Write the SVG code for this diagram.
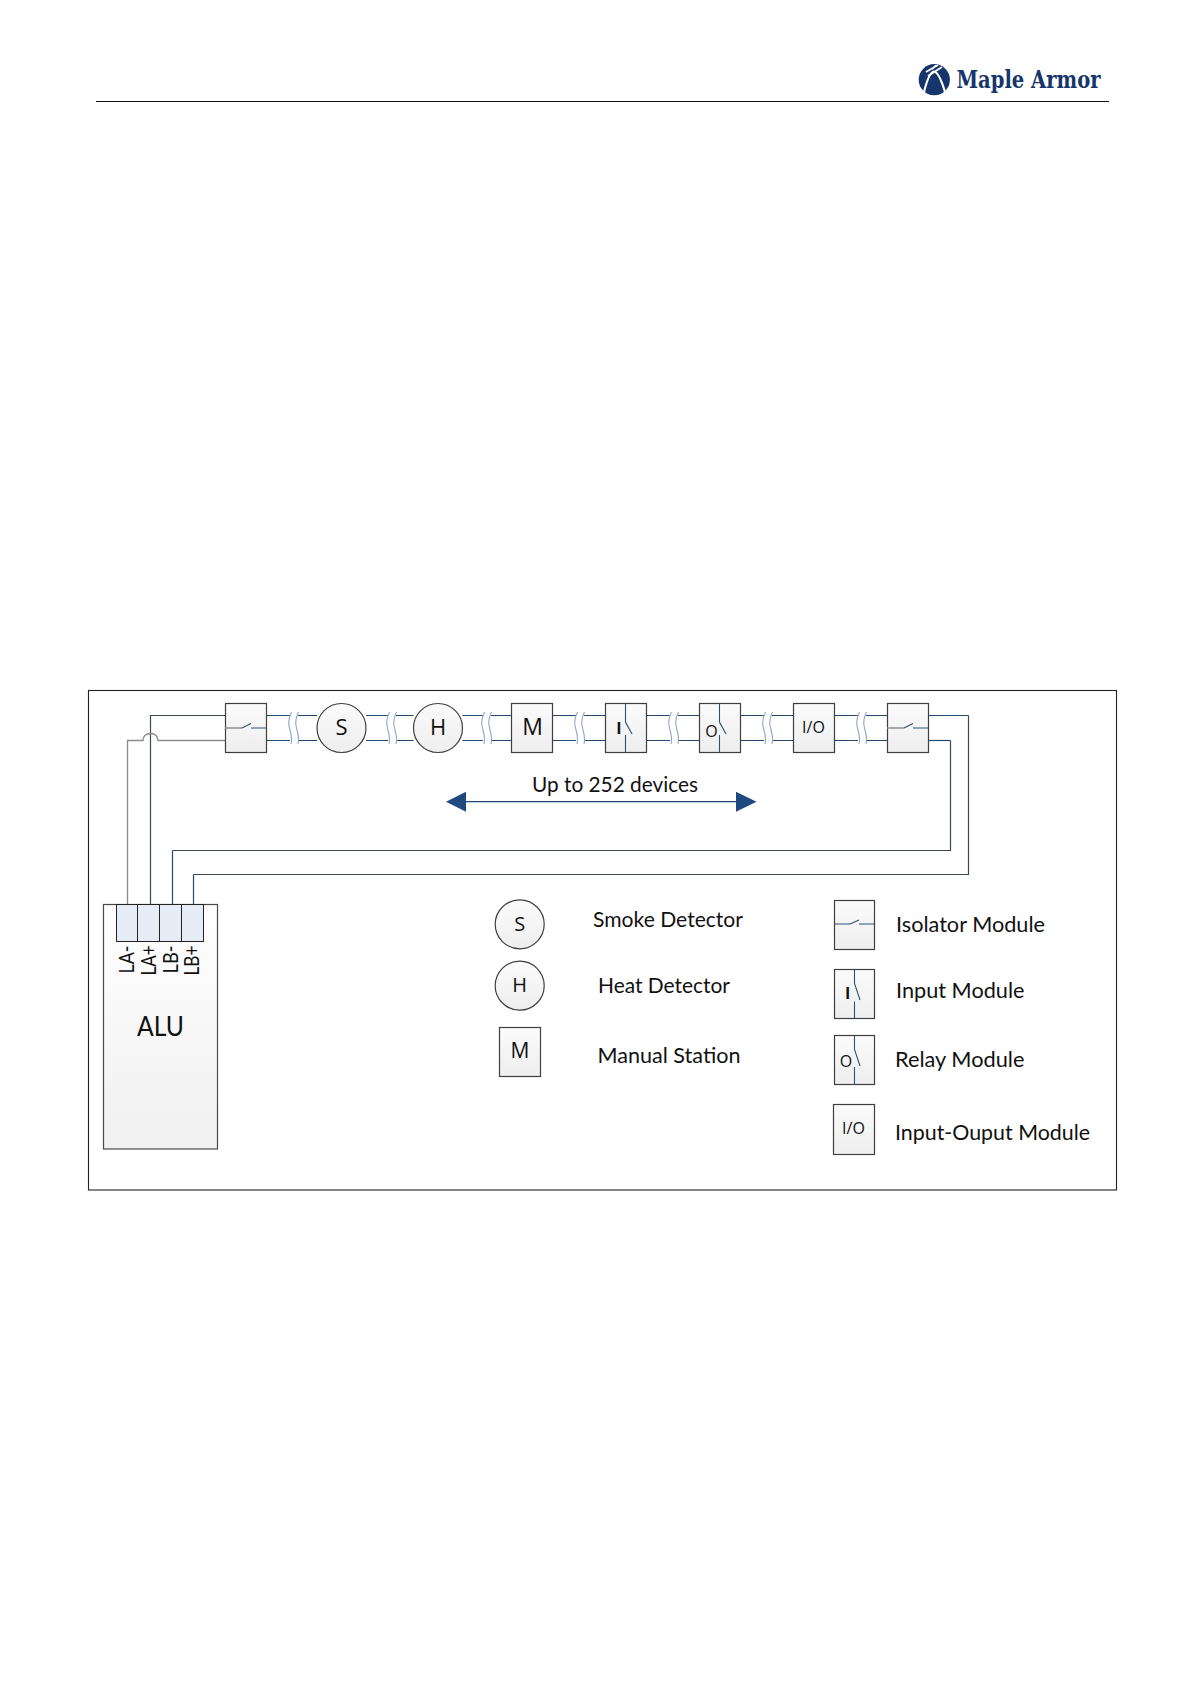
<svg xmlns="http://www.w3.org/2000/svg" width="1190" height="1684" viewBox="0 0 1190 1684">
<defs>
<linearGradient id="g" x1="0" y1="0" x2="0" y2="1"><stop offset="0" stop-color="#fbfbfb"/><stop offset="1" stop-color="#eeeeee"/></linearGradient>
<linearGradient id="g2" x1="0" y1="0" x2="0" y2="1"><stop offset="0" stop-color="#ffffff"/><stop offset="1" stop-color="#f0f0f0"/></linearGradient>
<path id="brk" d="M2 0C-1.500 7 -1.500 11 0 16S3 26 1.500 32" fill="none" stroke="#8fa8c6" stroke-width="1.100"/>
<g id="brks"><use href="#brk"/><use href="#brk" x="7"/></g>
<style>
text{font-family:"Lato","Liberation Sans",sans-serif;fill:#111}
.box{fill:url(#g);stroke:#3f3f3f;stroke-width:1.200}
.wire{fill:none;stroke:#234a6e;stroke-width:1.200}
.dark{fill:none;stroke:#3f4850;stroke-width:1.200}
.grey{fill:none;stroke:#8a8a8a;stroke-width:1.300}
.sw{fill:none;stroke:#2c5078;stroke-width:1.100}
.swg{fill:none;stroke:#a8a8a8;stroke-width:2}
.lbl{font-size:21.500px}
.sym{font-family:"Open Sans",sans-serif;font-size:22px;text-anchor:middle}
.lsym{font-family:"Open Sans",sans-serif;font-size:20px;text-anchor:middle}
.sm{font-family:"Open Sans",sans-serif;font-size:16px;text-anchor:middle}
.pin{font-size:22px}
</style>
</defs>
<rect width="1190" height="1684" fill="#fff"/>
<g id="header">
<line x1="96" y1="101.500" x2="1109" y2="101.500" stroke="#111" stroke-width="1"/>
<g id="logo">
<circle cx="934.300" cy="79.700" r="15.600" fill="#15356b"/>
<path d="M924 92Q929 72 934 71.500Q939 72 945 92" fill="none" stroke="#fff" stroke-width="2.200"/>
<path d="M926 72L938 65M928 76L942 67M932 69L936 65.500" fill="none" stroke="#fff" stroke-width="1.800"/>
</g>
<text x="956.500" y="88" textLength="144" lengthAdjust="spacingAndGlyphs" style="font-family:'DejaVu Serif',serif;font-weight:700;font-size:24px;fill:#15356b">Maple Armor</text>
</g>
<rect id="frame" x="88.500" y="690.500" width="1028" height="499.500" fill="none" stroke="#222" stroke-width="1.100"/>
<g id="connectors">
<path class="dark" d="M225.500 715.500H150.500V904.500"/>
<path class="grey" d="M225.500 740.500H158Q157.500 733.500 150.500 733.500T143 740.500H127.500V904.500"/>
<path class="wire" d="M266.500 715.500H290M298 715.500H317M266.500 740.500H290M298 740.500H317"/>
<path class="wire" d="M366 715.500H388M396 715.500H413.500M366 740.500H388M396 740.500H413.500"/>
<path class="wire" d="M462.500 715.500H483M491 715.500H511.500M462.500 740.500H483M491 740.500H511.500"/>
<path class="wire" d="M552.500 715.500H576M584 715.500H605.500M552.500 740.500H576M584 740.500H605.500"/>
<path class="wire" d="M646.500 715.500H670M678 715.500H699.500M646.500 740.500H670M678 740.500H699.500"/>
<path class="wire" d="M740.500 715.500H764M772 715.500H793.500M740.500 740.500H764M772 740.500H793.500"/>
<path class="wire" d="M834.500 715.500H858M866 715.500H887.500M834.500 740.500H858M866 740.500H887.500"/>
<path class="wire" d="M928.500 715.500H968.500"/>
<path class="dark" d="M968.500 715.500V874.500H193.500"/>
<path class="wire" d="M193.500 874.500V904.500"/>
<path class="wire" d="M928.500 740.500H950.500"/>
<path class="dark" d="M950.500 740.500V850.500H172.500"/>
<path class="wire" d="M172.500 850.500V904.500"/>
<use href="#brks" x="289.500" y="712"/>
<use href="#brks" x="387.500" y="712"/>
<use href="#brks" x="482.500" y="712"/>
<use href="#brks" x="575.500" y="712"/>
<use href="#brks" x="669.500" y="712"/>
<use href="#brks" x="763.500" y="712"/>
<use href="#brks" x="857.500" y="712"/>
<g id="range">
<line x1="464" y1="801.700" x2="738" y2="801.700" stroke="#234a6e" stroke-width="1.200"/>
<polygon points="446,801.700 466,791.700 466,811.700" fill="#1f4a80"/>
<polygon points="756.500,801.700 736,791.700 736,811.700" fill="#1f4a80"/>
</g>
</g>
<text id="range-label" class="lbl" x="532" y="792" textLength="166" lengthAdjust="spacingAndGlyphs">Up to 252 devices</text>

<g id="iso1"><rect class="box" x="225.500" y="703.500" width="41" height="49"/><path class="swg" d="M225.500 728H242"/><path class="sw" d="M242 728L251 723.500M251 728H266.500"/></g>
<g id="smoke"><circle class="box" cx="341.500" cy="728" r="24.500"/><text class="sym" x="341.500" y="735">S</text></g>
<g id="heat"><circle class="box" cx="438" cy="728" r="24.500"/><text class="sym" x="438" y="735">H</text></g>
<g id="manual"><rect class="box" x="511.500" y="703.500" width="41" height="49"/><text class="sym" x="532.500" y="735" style="font-size:23px">M</text></g>
<g id="input"><rect class="box" x="605.500" y="703.500" width="41" height="49"/><path class="sw" d="M625.500 703.500V722L632 734M625.500 735V752.500"/><text class="sm" x="619" y="734" font-weight="700">I</text></g>
<g id="relay"><rect class="box" x="699.500" y="703.500" width="41" height="49"/><path class="sw" d="M719.500 703.500V722L726 734M719.500 735V752.500"/><text class="sm" x="711.500" y="736.500">O</text></g>
<g id="io"><rect class="box" x="793.500" y="703.500" width="41" height="49"/><text class="sm" x="813.500" y="732.500">I/O</text></g>
<g id="iso2"><rect class="box" x="887.500" y="703.500" width="41" height="49"/><path class="swg" d="M887.500 728H904"/><path class="sw" d="M904 728L913 723.500M913 728H928.500"/></g>

<g id="alu">
<rect x="103.500" y="904.500" width="114" height="244.500" fill="url(#g2)" stroke="#4a4a4a" stroke-width="1.200"/>
<g fill="#e6ecf5" stroke="#222" stroke-width="1">
<rect x="116.500" y="904.500" width="21" height="37"/><rect x="137.500" y="904.500" width="22" height="37"/><rect x="159.500" y="904.500" width="22" height="37"/><rect x="181.500" y="904.500" width="22" height="37"/>
</g>
<text class="pin" transform="translate(134 973.500) rotate(-90)" textLength="28" lengthAdjust="spacingAndGlyphs">LA-</text>
<text class="pin" transform="translate(156 975.500) rotate(-90)" textLength="30" lengthAdjust="spacingAndGlyphs">LA+</text>
<text class="pin" transform="translate(178 973.500) rotate(-90)" textLength="28" lengthAdjust="spacingAndGlyphs">LB-</text>
<text class="pin" transform="translate(199 975.500) rotate(-90)" textLength="30" lengthAdjust="spacingAndGlyphs">LB+</text>
<text x="137" y="1036" textLength="47" lengthAdjust="spacingAndGlyphs" style="font-size:26px">ALU</text>
</g>

<g id="legend-smoke"><circle class="box" cx="519.700" cy="924.300" r="24.500"/><text class="lsym" x="519.700" y="930.700">S</text><text class="lbl" x="593" y="927" textLength="150" lengthAdjust="spacingAndGlyphs">Smoke Detector</text></g>
<g id="legend-heat"><circle class="box" cx="519.700" cy="985.700" r="24.500"/><text class="lsym" x="519.500" y="992">H</text><text class="lbl" x="598" y="993" textLength="132" lengthAdjust="spacingAndGlyphs">Heat Detector</text></g>
<g id="legend-manual"><rect class="box" x="499.500" y="1027.500" width="41" height="49"/><text class="lsym" x="520" y="1057.700" style="font-size:21px">M</text><text class="lbl" x="597.500" y="1063" textLength="143" lengthAdjust="spacingAndGlyphs">Manual Station</text></g>
<g id="legend-iso"><rect class="box" x="834.500" y="900.500" width="40" height="49"/><path class="sw" d="M834.500 924H850L859 920M859 924H874.500"/><text class="lbl" x="896" y="931.700" textLength="149" lengthAdjust="spacingAndGlyphs">Isolator Module</text></g>
<g id="legend-input"><rect class="box" x="834.500" y="969.500" width="40" height="49"/><path class="sw" d="M854.500 969.500V983.500L860 1000M854.500 1001.500V1018.500"/><text class="sm" x="847.700" y="999.300" font-weight="700">I</text><text class="lbl" x="896" y="997.500" textLength="128.500" lengthAdjust="spacingAndGlyphs">Input Module</text></g>
<g id="legend-relay"><rect class="box" x="834.500" y="1035.500" width="40" height="49"/><path class="sw" d="M854.500 1035.500V1049.500L860 1066M854.500 1067V1084.500"/><text class="sm" x="846" y="1066.700">O</text><text class="lbl" x="895" y="1066.700" textLength="129.500" lengthAdjust="spacingAndGlyphs">Relay Module</text></g>
<g id="legend-io"><rect class="box" x="833.500" y="1104.500" width="41" height="50"/><text class="sm" x="853.500" y="1134.300">I/O</text><text class="lbl" x="895" y="1140" textLength="195" lengthAdjust="spacingAndGlyphs">Input-Ouput Module</text></g>
</svg>
